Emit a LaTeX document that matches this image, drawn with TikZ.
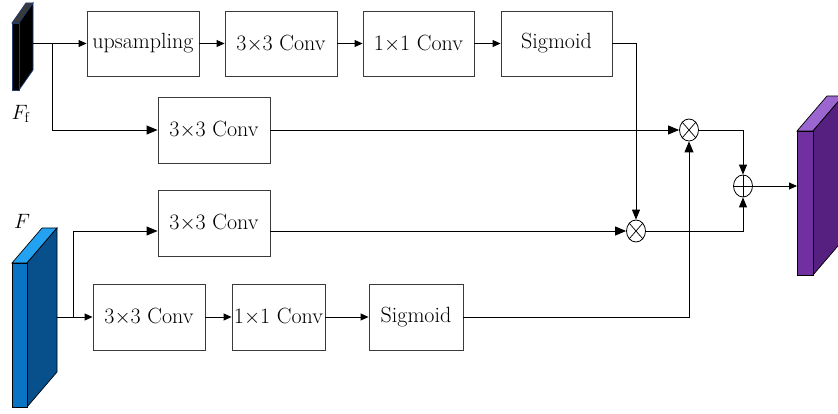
\documentclass[tikz,border=0pt]{standalone}
\usetikzlibrary{arrows.meta,shapes.geometric}
\definecolor{boxc}{HTML}{3A3A3A}
\definecolor{ffedge}{HTML}{1F3A6E}
\definecolor{fftop}{HTML}{3A3A3A}
\definecolor{ffront}{HTML}{0A74C4}
\definecolor{fside}{HTML}{07508C}
\definecolor{ftop}{HTML}{23A2F2}
\definecolor{pfront}{HTML}{7030A0}
\definecolor{pside}{HTML}{55207F}
\definecolor{ptop}{HTML}{9B66D0}
\begin{document}
\begin{tikzpicture}[x=1pt,y=-1pt,
  box/.style={draw=boxc, line width=0.9pt, minimum height=65pt, inner sep=0pt,
    font=\fontsize{22}{26}\selectfont},
  op/.style={draw, ellipse, minimum width=19pt, minimum height=22pt, inner sep=0pt, line width=0.8pt},
  conn/.style={draw, line width=0.9pt},
  arrs/.style={conn, -{Triangle[length=8pt,width=7pt]}},
  arrm/.style={conn, -{Triangle[length=10pt,width=8pt]}},
  arrb/.style={conn, -{Triangle[length=11pt,width=9pt]}},
  lbl/.style={font=\fontsize{21}{24}\selectfont, inner sep=0pt}]
\useasboundingbox (0,0) rectangle (838,414);

% ---- F_f block (thin, black)
\filldraw[draw=ffedge, fill=fftop, line width=0.8pt] (12,23) -- (19,23) -- (33,3) -- (26,3) -- cycle;
\filldraw[draw=ffedge, fill=black, line width=0.8pt] (19,23) -- (33,3) -- (33,70) -- (19,90) -- cycle;
\filldraw[draw=ffedge, fill=black, line width=0.8pt] (12,23) rectangle (19,90);
\coordinate (ffo) at (33,43.5);
\node[lbl] (lff) at (21,114) {$F_{\mathrm{f}}$};

% ---- F block (blue)
\filldraw[draw=black, fill=ftop, line width=0.7pt] (12,263) -- (27,263) -- (57,228) -- (42,228) -- cycle;
\filldraw[draw=black, fill=fside, line width=0.7pt] (27,263) -- (57,228) -- (57,372) -- (27,407) -- cycle;
\filldraw[draw=black, fill=ffront, line width=0.7pt] (12,263) rectangle (27,407);
\coordinate (fo) at (57,317);
\node[lbl] (lf) at (22,221) {$F$};

% ---- output block (purple)
\filldraw[draw=black, fill=ptop, line width=0.7pt] (797,131) -- (813,131) -- (843,96) -- (827,96) -- cycle;
\filldraw[draw=black, fill=pside, line width=0.7pt] (813,131) -- (843,96) -- (843,240) -- (813,275) -- cycle;
\filldraw[draw=black, fill=pfront, line width=0.7pt] (797,131) rectangle (813,275);
\coordinate (outi) at (797,186);

% ---- boxes
\node[box, minimum width=112pt] (up)   at (143,43.5)   {upsampling};
\node[box, minimum width=112pt] (c33a) at (281,43.5)   {3$\times$3 Conv};
\node[box, minimum width=111pt] (c11a) at (418.5,43.5) {1$\times$1 Conv};
\node[box, minimum width=111pt] (siga) at (556.5,43.5) {Sigmoid};
\node[box, minimum width=112pt, minimum height=66pt] (c33b) at (214,130) {3$\times$3 Conv};
\node[box, minimum width=112pt, minimum height=66pt] (c33c) at (214,223) {3$\times$3 Conv};
\node[box, minimum width=112pt, minimum height=66pt] (c33d) at (149,317) {3$\times$3 Conv};
\node[box, minimum width=93pt, minimum height=66pt]  (c11d) at (278.5,317) {1$\times$1 Conv};
\node[box, minimum width=94pt, minimum height=66pt]  (sigd) at (416,317) {Sigmoid};

% ---- operators
\node[op] (mulA) at (689,130) {};
\node[op] (mulB) at (636,231) {};
\node[op] (add)  at (743,186) {};
\foreach \m in {mulA,mulB}{
  \draw[line width=0.7pt] (\m.north west) -- (\m.south east);
  \draw[line width=0.7pt] (\m.north east) -- (\m.south west);
}
\draw[line width=0.7pt] (add.north) -- (add.south);
\draw[line width=0.7pt] (add.west) -- (add.east);

% ---- branch points
\coordinate (br1) at (52,43.5);
\coordinate (br2) at (73,317);

% ---- connectors
\draw[arrs] (ffo) -- (up.west);
\draw[arrb] (br1) |- (c33b.west);
\draw[arrs] (up) -- (c33a);
\draw[arrs] (c33a) -- (c11a);
\draw[arrs] (c11a) -- (siga);
\draw[arrm] (siga.east) -| (mulB.north);
\draw[arrb] (c33b.east) -- (mulA.west);
\draw[arrm] (mulA.east) -| (add.north);
\draw[arrs] (fo) -- (c33d.west);
\draw[arrb] (br2) |- (c33c.west |- mulB.west);
\draw[arrb] (c33c.east |- mulB.west) -- (mulB.west);
\draw[arrm] (mulB.east) -| (add.south);
\draw[arrs] (c33d) -- (c11d);
\draw[arrs] (c11d) -- (sigd);
\draw[arrb] (sigd.east) -| (mulA.south);
\draw[arrs] (add.east) -- (outi);
\end{tikzpicture}
\end{document}
